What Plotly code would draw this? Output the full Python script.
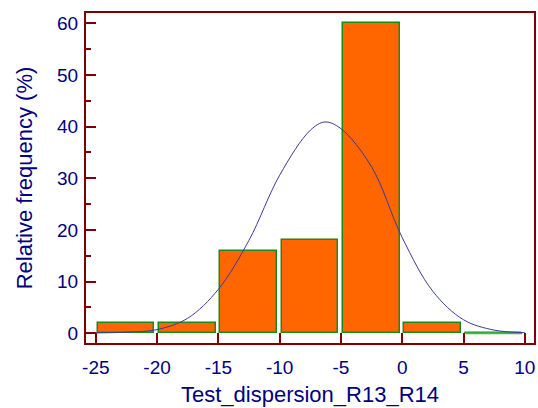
import plotly.graph_objects as go

# Histogram data (bin edges of width 5, relative frequency in %)
bin_starts = [-25, -20, -15, -10, -5, 0, 5]
bin_width = 5
rel_freq = [2, 2, 16, 18, 60, 2, 0]

# Fitted normal curve
curve_x = [-25, -22.5, -20, -17.5, -15, -12.5, -10, -7.5, -6.3, -5, -2.5, 0, 2.5, 5, 7.5, 10]
curve_y = [0.05, 0.2, 0.7, 2.9, 8.5, 18, 30.6, 39.3, 40.9, 39.6, 32.2, 18.5, 8.1, 2.6, 0.6, 0.1]

x_ticks = [-25, -20, -15, -10, -5, 0, 5, 10]
y_ticks = [0, 10, 20, 30, 40, 50, 60]

AXIS_COLOR = "#800000"
TEXT_COLOR = "#000080"
BAR_FILL = "#FF6600"
BAR_LINE = "#1a8a1a"

centers = [s + bin_width / 2 for s in bin_starts]

fig = go.Figure()
fig.add_trace(go.Bar(
    x=centers, y=rel_freq, width=4.62, offset=-2.34,
    marker=dict(color=BAR_FILL, line=dict(color=BAR_LINE, width=1.5)),
    hoverinfo="skip", showlegend=False,
))
# zero-height bins are drawn as a flat outline at 0
for s, v in zip(bin_starts, rel_freq):
    if v == 0:
        fig.add_trace(go.Scatter(
            x=[s + 0.16, s + bin_width - 0.22], y=[v, v], mode="lines",
            line=dict(color="#4caf50", width=2), showlegend=False, hoverinfo="skip",
        ))
fig.add_trace(go.Scatter(
    x=curve_x, y=curve_y, mode="lines", line=dict(color="#3a3a9a", width=1, shape="spline"),
    showlegend=False, hoverinfo="skip",
))

fig.update_layout(
    width=538, height=408,
    margin=dict(l=86, r=2, t=13, b=65),
    paper_bgcolor="white", plot_bgcolor="white",
    bargap=0,
    xaxis=dict(
        range=[-25.8, 10.75], tickvals=x_ticks, ticktext=[str(t) for t in x_ticks],
        showgrid=False, zeroline=False,
        showline=True, linecolor=AXIS_COLOR, linewidth=2, mirror=True,
        ticks="inside", ticklen=10, tickwidth=2, tickcolor=AXIS_COLOR,
        ticklabelstandoff=6,
        tickfont=dict(family="Liberation Sans, Arial", size=19, color=TEXT_COLOR),
        title=dict(text="Test_dispersion_R13_R14", standoff=10,
                   font=dict(family="Liberation Sans, Arial", size=22, color=TEXT_COLOR)),
    ),
    yaxis=dict(
        range=[-1.9, 62], tickvals=y_ticks, ticktext=[str(t) for t in y_ticks],
        showgrid=False, zeroline=False,
        showline=True, linecolor=AXIS_COLOR, linewidth=2, mirror=True,
        ticks="inside", ticklen=10, tickwidth=2, tickcolor=AXIS_COLOR,
        minor=dict(dtick=5, tick0=0, ticks="inside", ticklen=5, tickwidth=2, tickcolor=AXIS_COLOR, showgrid=False),
        ticklabelstandoff=2,
        tickfont=dict(family="Liberation Sans, Arial", size=19, color=TEXT_COLOR),
        title=dict(text="Relative frequency (%)", standoff=18,
                   font=dict(family="Liberation Sans, Arial", size=22, color=TEXT_COLOR)),
    ),
)

fig.write_html("out.html", config={"displayModeBar": False},
               post_script="document.body.style.margin='0px';")
